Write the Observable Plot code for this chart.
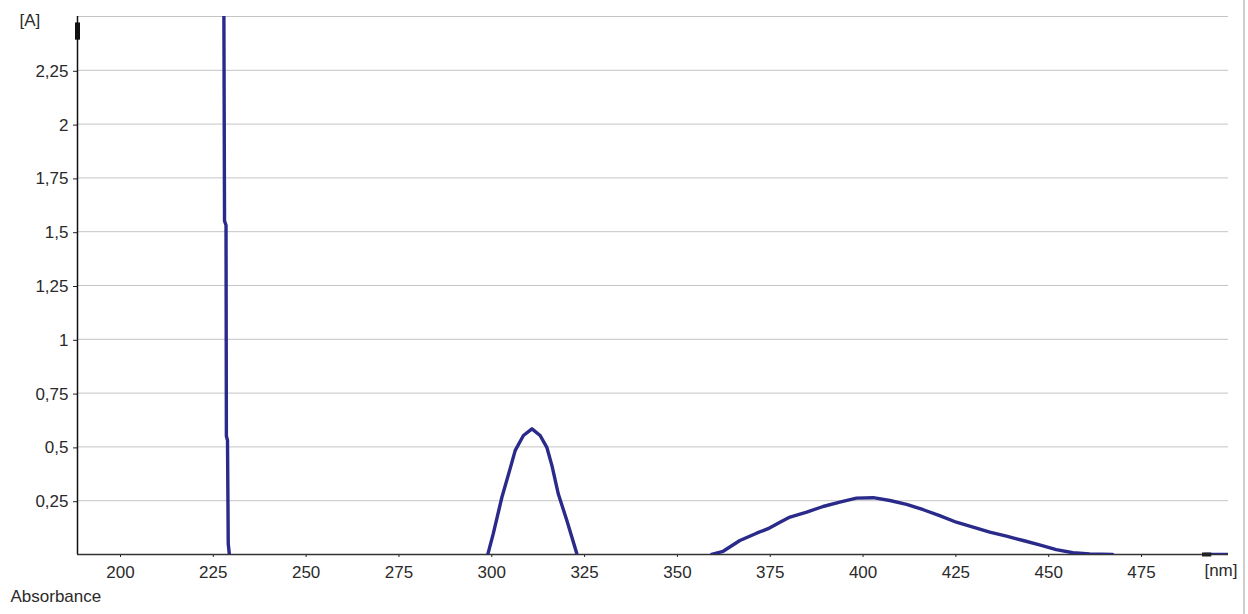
<!DOCTYPE html>
<html>
<head>
<meta charset="utf-8">
<script src="https://cdn.jsdelivr.net/npm/d3@7"></script>
<script src="https://cdn.jsdelivr.net/npm/@observablehq/plot@0.6"></script>
<style>
  html, body { margin: 0; padding: 0; background: #fff; }
  #wrap { position: relative; width: 1248px; height: 614px; overflow: hidden; }
  #edge { position: absolute; left: 1243px; top: 0; width: 2px; height: 614px; background: #cfcfcf; }
</style>
</head>
<body>
<div id="wrap"><div id="edge"></div></div>
<script>
// Spectrum data (wavelength in nm, absorbance in A); values outside [0, 2.5] are clipped by the frame
const wavelength = [189.5, 228.8, 229.1, 229.5, 229.6, 229.9, 230.1, 230.4, 231,
  299, 300.0, 301.5, 303.8, 306.0, 307.4, 309.6, 311.9, 314.1, 315.9, 317.3, 319.0, 321.3, 324.0, 325,
  359, 360.3, 363.4, 367.9, 372.4, 375.5, 378.7, 381.4, 385.9, 390.3, 394.8, 399.3, 403.8, 408.3,
  412.8, 417.3, 421.7, 426.2, 430.7, 435.2, 439.7, 444.2, 448.6, 453.1, 457.6, 462.1, 468.3, 470,
  492, 493, 499.5];
const absorbance = [3.5, 3.2, 1.55, 1.53, 0.55, 0.53, 0.05, 0.0, -0.05,
  -0.05, 0.0, 0.098, 0.266, 0.398, 0.484, 0.553, 0.584, 0.553, 0.498, 0.412, 0.281, 0.158, 0.003, -0.05,
  -0.05, 0.0, 0.015, 0.065, 0.099, 0.12, 0.15, 0.174, 0.197, 0.223, 0.243, 0.262, 0.264, 0.251,
  0.233, 0.208, 0.181, 0.15, 0.127, 0.104, 0.085, 0.065, 0.045, 0.023, 0.008, 0.003, 0.0, -0.05,
  -0.05, 0.0, 0.0];

const xDomain = [189.5, 499.5];
const yDomain = [0, 2.5];
const xTicks = [200, 225, 250, 275, 300, 325, 350, 375, 400, 425, 450, 475];
const yTicks = [0.25, 0.5, 0.75, 1, 1.25, 1.5, 1.75, 2, 2.25];
const yGrid = [0.25, 0.5, 0.75, 1, 1.25, 1.5, 1.75, 2, 2.25, 2.5];
const yMarker = [{y1: 2.39, y2: 2.47}];
const xMarker = [{x1: 492.5, x2: 495}];

const spectrum = wavelength.map((w, i) => ({w, a: absorbance[i]}));
const fmt = d => String(d).replace(".", ",");
const lineColor = "#2a2a8a";
const textColor = "#2a2a2a";

const chart = Plot.plot({
  width: 1248,
  height: 614,
  marginLeft: 77,
  marginRight: 20,
  marginTop: 16,
  marginBottom: 60,
  style: {fontFamily: "Liberation Sans, Arial, sans-serif", fontSize: "17px", color: textColor, background: "transparent"},
  x: {domain: xDomain, ticks: xTicks, label: null},
  y: {domain: yDomain, ticks: yTicks, label: null},
  marks: [
    Plot.gridY(yGrid, {stroke: "#c4c4c4", strokeOpacity: 1, strokeWidth: 1}),
    Plot.axisY(yTicks, {tickFormat: fmt, tickSize: 4, tickPadding: 5, stroke: "#222", fontSize: 17, dy: 1}),
    Plot.axisX(xTicks, {tickFormat: d => String(d), tickSize: 3, tickPadding: 8, stroke: "#222", fontSize: 17, dx: 4}),
    Plot.ruleX([xDomain[0]], {stroke: "#111", strokeWidth: 1.5}),
    Plot.ruleY([0], {stroke: "#333", strokeWidth: 1.5}),
    Plot.ruleX(yMarker, {x: xDomain[0], y1: "y1", y2: "y2", stroke: "#111", strokeWidth: 5}),
    Plot.line(spectrum, {x: "w", y: "a", stroke: lineColor, strokeWidth: 3.4, clip: true, curve: "linear"}),
    Plot.ruleY(xMarker, {y: 0, x1: "x1", x2: "x2", stroke: "#222", strokeWidth: 4}),
    Plot.text(["[A]"], {frameAnchor: "top-left", dx: -58, dy: -3, textAnchor: "start", fontSize: 17, fill: textColor}),
    Plot.text(["[nm]"], {frameAnchor: "bottom-right", dx: 9, dy: 21, textAnchor: "end", fontSize: 17, fill: textColor}),
    Plot.text(["Absorbance"], {frameAnchor: "bottom-left", dx: -67, dy: 47, textAnchor: "start", fontSize: 17, fill: textColor})
  ]
});
chart.style.position = "absolute";
chart.style.left = "0";
chart.style.top = "0";
document.getElementById("wrap").appendChild(chart);
</script>
</body>
</html>
